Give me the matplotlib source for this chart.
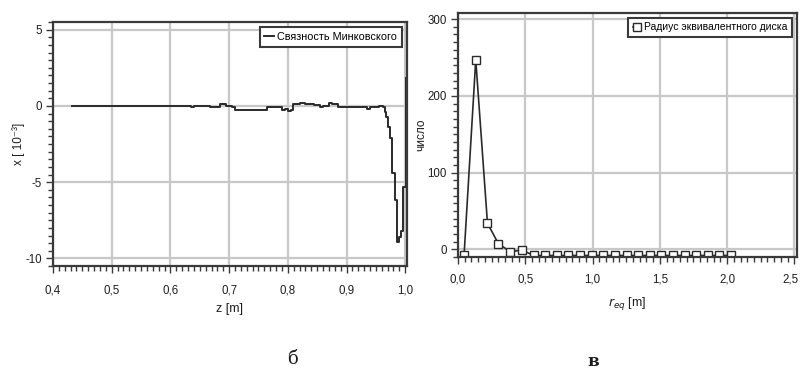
import matplotlib
matplotlib.use("Agg")
import matplotlib.pyplot as plt
from matplotlib.ticker import MultipleLocator
from matplotlib.transforms import ScaledTranslation

# ---- data: left panel (Minkowski connectivity) ----
z_vals = [0.433, 0.600, 0.630, 0.635, 0.640, 0.665, 0.668, 0.672, 0.685, 0.695,
          0.705, 0.710, 0.760, 0.765, 0.785, 0.790, 0.795, 0.800, 0.805, 0.808,
          0.815, 0.820, 0.830, 0.845, 0.855, 0.860, 0.870, 0.875, 0.885, 0.930,
          0.935, 0.940, 0.945, 0.955, 0.962, 0.965, 0.967, 0.970, 0.974, 0.977,
          0.982, 0.986, 0.989, 0.993, 0.996, 0.9986, 1.001]
chi_vals = [0.0, 0.0, 0.0, -0.1, 0.0, 0.0, -0.1, -0.05, 0.1, 0.0,
            -0.05, -0.25, -0.25, -0.1, -0.1, -0.3, -0.2, -0.35, -0.3, 0.1,
            0.1, 0.2, 0.1, 0.05, -0.05, 0.0, 0.2, 0.1, -0.05, -0.05,
            -0.2, -0.1, -0.05, 0.0, -0.1, -0.4, -0.75, -1.4, -2.1, -4.4,
            -6.2, -8.9, -8.6, -8.2, -5.3, -5.3, 1.8]
left_xticks = [0.4, 0.5, 0.6, 0.7, 0.8, 0.9, 1.0]
left_xticklabels = ["0,4", "0,5", "0,6", "0,7", "0,8", "0,9", "1,0"]
left_yticks = [5, 0, -5, -10]
left_yticklabels = ["5", "0", "-5", "-10"]

# ---- data: right panel (equivalent disc radius histogram) ----
r_eq = [0.045, 0.132, 0.219, 0.301, 0.390, 0.476, 0.562, 0.649, 0.735, 0.821,
        0.908, 0.994, 1.080, 1.166, 1.253, 1.339, 1.425, 1.512, 1.598, 1.684,
        1.770, 1.857, 1.943, 2.030]
counts = [-8, 247, 34, 7, -3, -1, -8, -8, -8, -8,
          -8, -8, -8, -8, -8, -8, -8, -8, -8, -8,
          -8, -8, -8, -8]
right_xticks = [0.0, 0.5, 1.0, 1.5, 2.0, 2.5]
right_xticklabels = ["0,0", "0,5", "1,0", "1,5", "2,0", "2,5"]
right_yticks = [0, 100, 200, 300]
right_yticklabels = ["0", "100", "200", "300"]

W, H = 801, 370
fig = plt.figure(figsize=(W / 100, H / 100), dpi=100)

FAM = ["Liberation Sans", "DejaVu Sans"]
tick_font = dict(family=FAM, size=8.3)
frame_col = "#3a3a3a"
grid_col = "#c8c8c8"
line_col = "#2a2a2a"
text_col = "#1e1e1e"


def style_axes(ax, pad):
    for s in ax.spines.values():
        s.set_color(frame_col)
        s.set_linewidth(1.6)
    ax.grid(True, which="major", color=grid_col, linewidth=1.6)
    ax.set_axisbelow(True)
    ax.tick_params(which="major", direction="out", length=5, width=1.0,
                   color=frame_col)
    ax.tick_params(which="minor", direction="out", length=3.5, width=1.0,
                   color=frame_col)
    ax.tick_params(axis="x", which="major", pad=pad)
    ax.tick_params(axis="y", which="major", pad=3)
    ax.tick_params(axis="both", labelcolor=text_col)


# Left panel
ax1 = fig.add_axes([53 / W, 1 - 266 / H, (407 - 53) / W, (266 - 22) / H])
ax1.plot(z_vals, chi_vals, color=line_col, linewidth=1.4,
         drawstyle="steps-post", label="Связность Минковского")
ax1.set_xlim(0.4, 1.003)
ax1.set_ylim(-10.5, 5.5)
ax1.set_xticks(left_xticks, left_xticklabels, **tick_font)
ax1.set_yticks(left_yticks, left_yticklabels, **tick_font)
ax1.xaxis.set_minor_locator(MultipleLocator(0.01))
ax1.yaxis.set_minor_locator(MultipleLocator(0.5))
style_axes(ax1, pad=8)
ax1.set_xlabel("z [m]", family=FAM, size=9, labelpad=5, color=text_col)
ax1.set_ylabel("x [ 10⁻³]", family=FAM, size=8.5, labelpad=0, color=text_col)
leg1 = ax1.legend(loc="upper right", handlelength=0.9, handletextpad=0.3,
                  borderpad=0.45, fancybox=False, framealpha=1,
                  prop=dict(family=FAM, size=7.8), borderaxespad=0.45)
leg1.get_frame().set_edgecolor(frame_col)
leg1.get_frame().set_linewidth(1.5)

# Right panel
ax2 = fig.add_axes([458 / W, 1 - 257 / H, (797 - 458) / W, (257 - 13) / H])
ax2.plot(r_eq, counts, color=line_col, linewidth=1.2, marker="s",
         markersize=5.5, markerfacecolor="white", markeredgecolor=line_col,
         markeredgewidth=1.0, label="Радиус эквивалентного диска")
ax2.set_xlim(0.0, 2.52)
ax2.set_ylim(-10, 308)
ax2.set_xticks(right_xticks, right_xticklabels, **tick_font)
ax2.set_yticks(right_yticks, right_yticklabels, **tick_font)
ax2.xaxis.set_minor_locator(MultipleLocator(0.05))
ax2.yaxis.set_minor_locator(MultipleLocator(10))
style_axes(ax2, pad=7)
# keep the last tick label inside the figure
last = ax2.get_xticklabels()[-1]
last.set_transform(last.get_transform() + ScaledTranslation(-4 / 100, 0, fig.dpi_scale_trans))
ax2.set_xlabel(r"$r_{eq}$ [m]", family=FAM, size=9, labelpad=7, color=text_col)
ax2.set_ylabel("число", family=FAM, size=8.5, labelpad=0, color=text_col)
leg2 = ax2.legend(loc="upper right", handlelength=0.8, handletextpad=0.3,
                  borderpad=0.45, fancybox=False, framealpha=1,
                  prop=dict(family=FAM, size=7.5), borderaxespad=0.45)
leg2.get_frame().set_edgecolor(frame_col)
leg2.get_frame().set_linewidth(1.5)

# Panel captions
fig.text(292 / W, 1 - 359 / H, "б", family="DejaVu Serif", size=13,
         ha="center", va="center", color=text_col)
fig.text(593 / W, 1 - 361 / H, "в", family="DejaVu Serif", size=12,
         weight="bold", ha="center", va="center", color=text_col)

fig.savefig("out.png", dpi=100)
